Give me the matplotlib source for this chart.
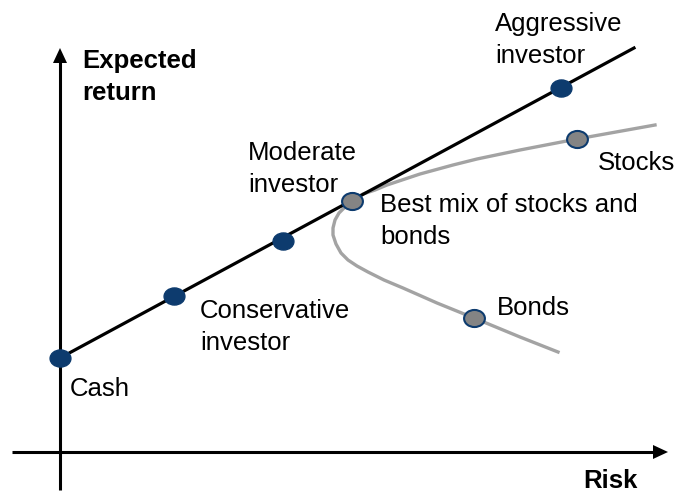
import numpy as np
import matplotlib.pyplot as plt
from matplotlib.path import Path

plt.rcParams['font.family'] = ['Liberation Sans', 'DejaVu Sans']

# points on the capital allocation line (risk, expected return)
line_risk = [0, 114, 223, 292, 501]
line_ret = [94, 156, 211, 251, 364]
line_end = (574, 404)

# efficient frontier of stocks/bonds mixes
curve_risk = [595, 517, 460, 417, 393, 360, 327, 315, 303, 292, 285, 279,
              275, 273, 273, 276, 281, 288, 297, 308, 324, 343, 377, 414,
              460, 498]
curve_ret = [327, 313, 302, 293, 287, 278, 267, 262, 258, 251, 245, 239,
             232, 224, 217, 208, 199, 192, 186, 180, 172, 164, 149, 134,
             115, 100]

stocks = (517, 313)
bonds = (414, 134)
best_mix = (292, 251)

navy = '#0d3b6e'

fig = plt.figure(figsize=(6.74, 4.93), dpi=100)
ax = fig.add_axes([0, 0, 1, 1])
ax.set_xlim(-60, 614)
ax.set_ylim(-41, 452)
ax.axis('off')

# axes with arrows
ax.plot([0, 0], [-38, 392], color='black', lw=2.2, solid_capstyle='butt')
ax.plot([-48, 596], [0, 0], color='black', lw=2.2, solid_capstyle='butt')
ax.fill([-7, 7, 0], [389, 389, 404], color='black', lw=0)
ax.fill([593, 593, 608], [-7, 7, 0], color='black', lw=0)

# ellipse marker
circ = Path.unit_circle()
ell = Path(circ.vertices * [1.0, 0.82], circ.codes)

ax.plot([line_risk[0], line_end[0]], [line_ret[0], line_end[1]],
        color='black', lw=2.3, zorder=2)
ax.plot(curve_risk, curve_ret, color='#a3a3a3', lw=2.4, zorder=1,
        solid_joinstyle='round')

ax.plot(line_risk[:3] + line_risk[4:], line_ret[:3] + line_ret[4:],
        ls='none', marker=ell, ms=15, color=navy, zorder=3)
for p in [stocks, bonds, best_mix]:
    ax.plot(*p, ls='none', marker=ell, ms=15, mfc='#848484', mec=navy,
            mew=1.5, zorder=3)

fs = 18.5
ls = 1.42
ax.text(22, 452 - 49, 'Expected\nreturn', fontsize=fs, fontweight='bold',
        va='top', ha='left', linespacing=ls)
ax.text(523, 452 - 469, 'Risk', fontsize=fs, fontweight='bold', va='top', ha='left')

labels = [
    (435, 452 - 12, 'Aggressive\ninvestor'),
    (188, 452 - 141, 'Moderate\ninvestor'),
    (320, 452 - 193, 'Best mix of stocks and\nbonds'),
    (538, 452 - 151, 'Stocks'),
    (437, 452 - 296, 'Bonds'),
    (140, 452 - 299, 'Conservative\ninvestor'),
    (10, 452 - 377, 'Cash'),
]
for x, y, s in labels:
    ax.text(x, y, s, fontsize=fs, va='top', ha='left', linespacing=ls)

fig.savefig('out.png', dpi=100)
